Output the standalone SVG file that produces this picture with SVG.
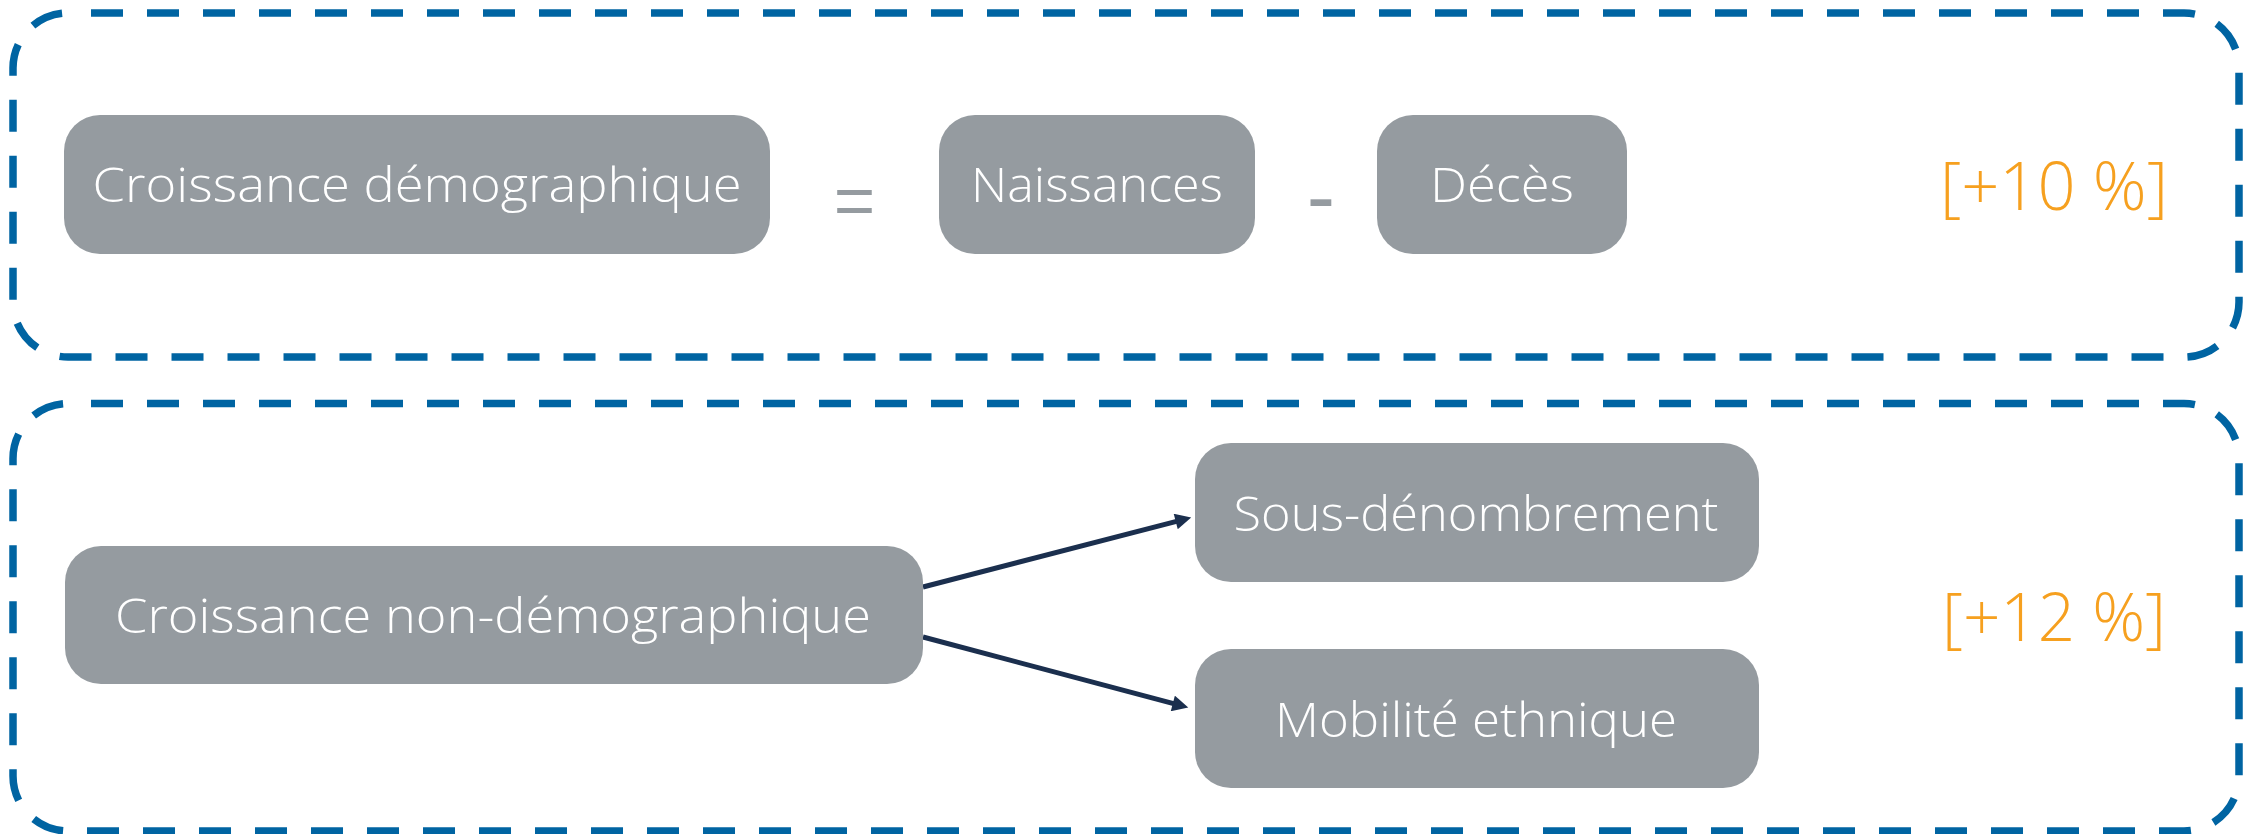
<svg xmlns="http://www.w3.org/2000/svg" width="2249" height="834" viewBox="0 0 2249 834">
  <defs>
    <style>
      .frame { fill: none; stroke: #0064A2; stroke-width: 7.5; stroke-dasharray: 32 24; stroke-dashoffset: 33; }
      .node rect { fill: #959ba0; }
      .node text { font-family: "Open Sans", "Liberation Sans", sans-serif; font-weight: 300; font-size: 48px; fill: #ffffff; text-anchor: middle; }
      .op { font-family: "Liberation Sans", sans-serif; fill: #959ba0; text-anchor: middle; }
      .pct { font-family: "Open Sans", "Liberation Sans", sans-serif; font-weight: 300; font-size: 67px; fill: #F6A01F; text-anchor: start; }
      .conn { stroke: #1B2F4E; stroke-width: 5; fill: none; }
    </style>
    <marker id="arrow" viewBox="0 0 10 10" refX="0.5" refY="5" markerWidth="3.4" markerHeight="3.2" orient="auto" markerUnits="strokeWidth">
      <path d="M0,0 L10,5 L0,10 z" fill="#1B2F4E"/>
    </marker>
  </defs>
  <rect width="2249" height="834" fill="#ffffff"/>

  <g id="frames">
    <rect id="frame-top" class="frame" x="13" y="13" width="2226" height="344" rx="55" ry="55"/>
    <rect id="frame-bottom" class="frame" x="13" y="403.5" width="2226" height="427.5" rx="55" ry="55"/>
  </g>

  <g id="connectors">
    <line class="conn" x1="923" y1="587" x2="1176.5" y2="521.3" marker-end="url(#arrow)"/>
    <line class="conn" x1="923" y1="637" x2="1173.6" y2="703.6" marker-end="url(#arrow)"/>
  </g>

  <g id="node-croissance-demo" class="node">
    <rect x="64" y="115" width="706" height="139" rx="36" ry="36"/>
    <text x="417" y="202" textLength="649" lengthAdjust="spacingAndGlyphs">Croissance démographique</text>
  </g>
  <g id="op-equal">
    <text class="op" x="854.5" y="225" font-size="71">=</text>
  </g>
  <g id="node-naissances" class="node">
    <rect x="939" y="115" width="316" height="139" rx="36" ry="36"/>
    <text x="1097" y="202" textLength="252" lengthAdjust="spacingAndGlyphs">Naissances</text>
  </g>
  <g id="op-minus">
    <text class="op" x="1321" y="225" font-size="85">-</text>
  </g>
  <g id="node-deces" class="node">
    <rect x="1377" y="115" width="250" height="139" rx="36" ry="36"/>
    <text x="1502" y="202" textLength="144" lengthAdjust="spacingAndGlyphs">Décès</text>
  </g>
  <g id="label-10">
    <text class="pct" x="1940" y="210" textLength="228" lengthAdjust="spacingAndGlyphs">[+10 %]</text>
  </g>

  <g id="node-croissance-non-demo" class="node">
    <rect x="65" y="546" width="858" height="138" rx="36" ry="36"/>
    <text x="493" y="633" textLength="756" lengthAdjust="spacingAndGlyphs">Croissance non-démographique</text>
  </g>
  <g id="node-sous-denombrement" class="node">
    <rect x="1195" y="443" width="564" height="139" rx="36" ry="36"/>
    <text x="1476" y="531" textLength="485" lengthAdjust="spacingAndGlyphs">Sous-dénombrement</text>
  </g>
  <g id="node-mobilite" class="node">
    <rect x="1195" y="649" width="564" height="139" rx="36" ry="36"/>
    <text x="1476" y="737" textLength="402" lengthAdjust="spacingAndGlyphs">Mobilité ethnique</text>
  </g>
  <g id="label-12">
    <text class="pct" x="1942" y="641" textLength="224" lengthAdjust="spacingAndGlyphs">[+12 %]</text>
  </g>
</svg>
